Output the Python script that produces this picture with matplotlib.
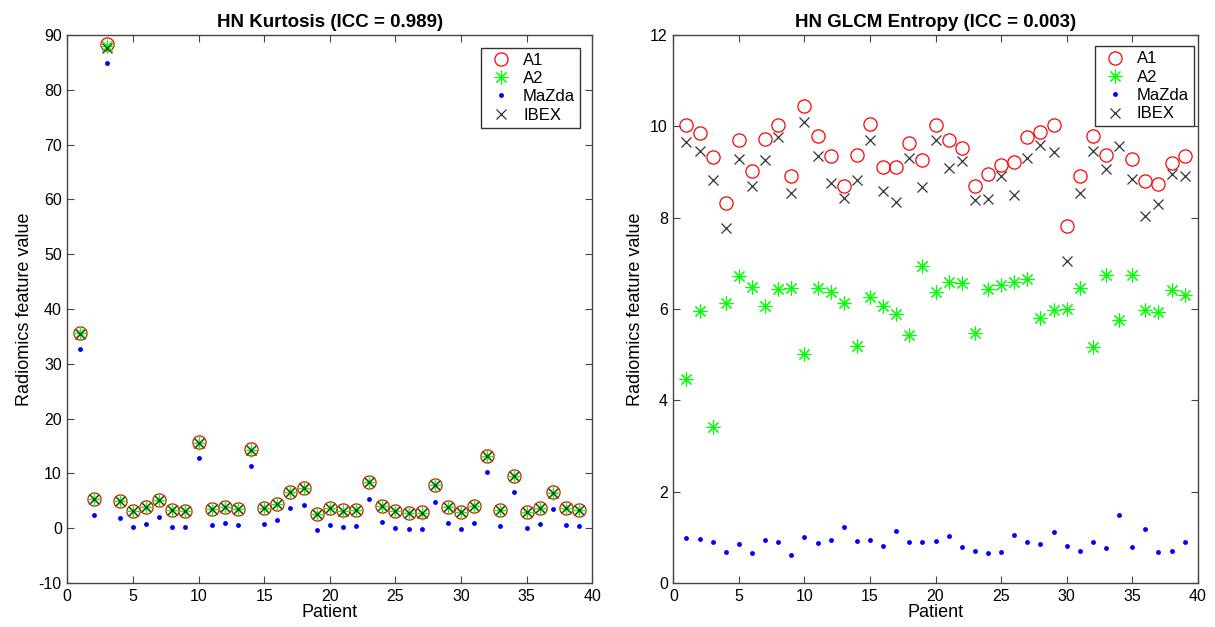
import matplotlib.pyplot as plt
import numpy as np

plt.rcParams['font.family'] = ['Liberation Sans', 'DejaVu Sans']
plt.rcParams['axes.unicode_minus'] = False

patients = np.arange(1, 40)

# HN Kurtosis (ICC = 0.989)
kurt_a1 = [35.7, 5.35, 88.4, 4.92, 3.10, 3.89, 5.16, 3.28, 3.16, 15.69,
           3.52, 3.95, 3.58, 14.42, 3.77, 4.50, 6.62, 7.30, 2.67, 3.77,
           3.28, 3.28, 8.45, 4.07, 3.10, 2.85, 2.92, 7.85, 3.95, 2.97,
           4.13, 13.25, 3.34, 9.60, 3.03, 3.77, 6.57, 3.77, 3.34]
kurt_a2 = [35.6, 5.30, 88.0, 4.90, 3.05, 3.85, 5.10, 3.25, 3.10, 15.60,
           3.50, 3.90, 3.55, 14.35, 3.70, 4.45, 6.55, 7.25, 2.55, 3.70,
           3.20, 3.25, 8.40, 4.00, 3.05, 2.80, 2.85, 7.80, 3.90, 2.90,
           4.05, 13.20, 3.30, 9.55, 3.00, 3.70, 6.50, 3.70, 3.30]
kurt_mazda = [32.7, 2.43, 84.9, 1.94, 0.18, 0.78, 2.06, 0.24, 0.18, 12.77,
              0.49, 0.97, 0.55, 11.37, 0.72, 1.58, 3.65, 4.25, -0.31, 0.66,
              0.24, 0.36, 5.40, 1.09, 0.00, -0.18, -0.06, 4.74, 0.91, -0.06,
              1.03, 10.33, 0.36, 6.68, 0.00, 0.72, 3.58, 0.66, 0.42]
kurt_ibex = [35.5, 5.30, 87.7, 4.90, 3.05, 3.85, 5.10, 3.25, 3.10, 15.60,
             3.50, 3.90, 3.55, 14.35, 3.70, 4.45, 6.55, 7.25, 2.60, 3.70,
             3.20, 3.25, 8.40, 4.00, 3.05, 2.80, 2.85, 7.80, 3.90, 2.90,
             4.05, 13.20, 3.30, 9.55, 3.00, 3.70, 6.50, 3.70, 3.30]

# HN GLCM Entropy (ICC = 0.003)
ent_a1 = [10.02, 9.85, 9.32, 8.33, 9.69, 9.02, 9.73, 10.02, 8.92, 10.45,
          9.78, 9.36, 8.69, 9.38, 10.05, 9.11, 9.11, 9.63, 9.27, 10.02,
          9.69, 9.53, 8.70, 8.96, 9.16, 9.22, 9.77, 9.88, 10.02, 7.82,
          8.92, 9.79, 9.38, np.nan, 9.28, 8.81, 8.74, 9.19, 9.36]
ent_a2 = [4.47, 5.96, 3.41, 6.13, 6.72, 6.48, 6.06, 6.43, 6.45, 5.02,
          6.45, 6.38, 6.13, 5.18, 6.26, 6.06, 5.88, 5.44, 6.95, 6.38,
          6.59, 6.56, 5.47, 6.43, 6.53, 6.59, 6.65, 5.81, 5.98, 6.01,
          6.45, 5.16, 6.75, 5.76, 6.75, 5.97, 5.93, 6.41, 6.30]
ent_mazda = [0.98, 0.96, 0.90, 0.67, 0.86, 0.65, 0.94, 0.90, 0.62, 1.01,
             0.87, 0.95, 1.22, 0.93, 0.95, 0.82, 1.14, 0.90, 0.89, 0.93,
             1.02, 0.79, 0.70, 0.65, 0.68, 1.04, 0.89, 0.85, 1.12, 0.82,
             0.70, 0.90, 0.76, 1.48, 0.79, 1.19, 0.67, 0.71, 0.90]
ent_ibex = [9.66, 9.45, 8.83, 7.78, 9.29, 8.70, 9.27, 9.77, 8.55, 10.10,
            9.35, 8.76, 8.43, 8.83, 9.69, 8.59, 8.35, 9.31, 8.68, 9.69,
            9.09, 9.24, 8.39, 8.41, 8.92, 8.50, 9.31, 9.58, 9.44, 7.05,
            8.55, 9.46, 9.07, 9.56, 8.85, 8.04, 8.29, 8.96, 8.91]

asterisk = (8, 2, 0)  # matlab-style '*'


def draw_panel(ax, a1, a2, mazda, ibex, title, yticks, leg_anchor):
    ax.plot(patients, a1, linestyle='none', marker='o', markersize=9.5,
            markerfacecolor='none', markeredgecolor='#ff0000', markeredgewidth=0.9, label='A1')
    ax.plot(patients, a2, linestyle='none', marker=asterisk, markersize=10,
            color='#00ff00', markeredgewidth=0.8, label='A2')
    ax.plot(patients, mazda, linestyle='none', marker='o', markersize=3.5,
            color='#0000ff', markeredgewidth=0, label='MaZda')
    ax.plot(patients, ibex, linestyle='none', marker='x', markersize=7.5,
            color='#333333', markeredgewidth=0.9, label='IBEX')
    ax.set_xlim(0, 40)
    ax.set_ylim(yticks[0], yticks[-1])
    ax.set_xticks(np.arange(0, 41, 5))
    ax.set_yticks(yticks)
    ax.set_xlabel('Patient', fontsize=13, labelpad=0)
    ax.set_ylabel('Radiomics feature value', fontsize=13, labelpad=4)
    ax.set_title(title, fontsize=13.5, fontweight='bold', pad=6)
    ax.tick_params(direction='in', top=True, right=True, labelsize=11.5,
                   length=5, width=0.8, color='#444444', pad=4)
    for s in ax.spines.values():
        s.set_color('#444444')
        s.set_linewidth(1.0)
    leg = ax.legend(loc='upper right', bbox_to_anchor=leg_anchor, fontsize=12,
                    fancybox=False, framealpha=1, edgecolor='#333333', borderaxespad=0,
                    handletextpad=0.4, labelspacing=0.2, borderpad=0.3, handlelength=1.8)
    leg.get_frame().set_linewidth(1.0)


fig = plt.figure(figsize=(12.15, 6.27), dpi=100)
ax1 = fig.add_axes([0.0554, 0.0702, 0.4321, 0.874])
ax2 = fig.add_axes([0.5542, 0.0702, 0.4316, 0.874])

draw_panel(ax1, kurt_a1, kurt_a2, kurt_mazda, kurt_ibex,
           'HN Kurtosis (ICC = 0.989)', np.arange(-10, 91, 10), (0.977, 0.977))
draw_panel(ax2, ent_a1, ent_a2, ent_mazda, ent_ibex,
           'HN GLCM Entropy (ICC = 0.003)', np.arange(0, 13, 2), (0.993, 0.979))

fig.savefig('out.png', dpi=100)
